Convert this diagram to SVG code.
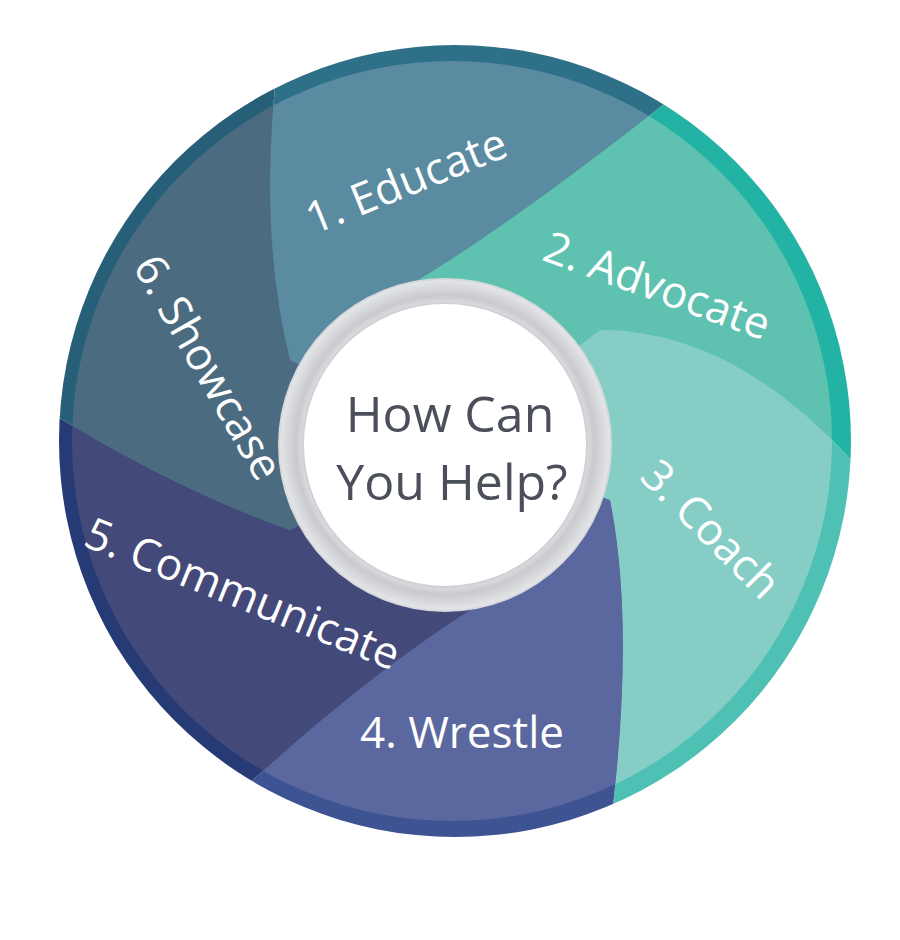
<svg xmlns="http://www.w3.org/2000/svg" width="900" height="940" viewBox="0 0 900 940">
<defs>
<clipPath id="outer"><circle cx="455" cy="441" r="396"/></clipPath>
<clipPath id="inner"><circle cx="452" cy="441" r="380"/></clipPath>
<radialGradient id="ring" cx="0.5" cy="0.5" r="0.5">
<stop offset="0.8" stop-color="#f4f4f6"/><stop offset="0.9" stop-color="#c9cacf"/><stop offset="1" stop-color="#e6e7ea"/>
</radialGradient>
<style>
.lbl{font-family:"Open Sans","Liberation Sans",sans-serif;font-size:44px;fill:#ffffff;text-anchor:middle}
.ctr{font-family:"Open Sans","Liberation Sans",sans-serif;font-size:50px;fill:#4a4f5a;text-anchor:middle}
</style>
<path id="pE" d="M450 445 L290 360 Q250 200 290 -20 L500 -100 L720 60 Q520 220 410 285 Z"/>
<path id="pA" d="M450 445 L410 285 Q520 220 720 60 L950 100 L900 520 Q760 330 600 330 Z"/>
<path id="pC" d="M450 445 L600 330 Q760 330 900 520 L950 900 L600 900 Q640 650 610 500 Z"/>
<path id="pW" d="M450 445 L610 500 Q640 650 600 900 L400 1000 L180 850 Q330 700 470 610 Z"/>
<path id="pM" d="M450 445 L470 610 Q330 700 180 850 L-100 800 L0 380 Q150 480 290 530 Z"/>
<path id="pS" d="M450 445 L290 530 Q150 480 0 380 L-100 -50 L290 -20 Q250 200 290 360 Z"/>
</defs>
<g id="rim" clip-path="url(#outer)">
<use href="#pE" fill="#2f7089"/><use href="#pA" fill="#22b3a4"/><use href="#pC" fill="#4fc0b4"/>
<use href="#pW" fill="#3d5392"/><use href="#pM" fill="#263a75"/><use href="#pS" fill="#285f78"/>
</g>
<g id="petals" clip-path="url(#inner)">
<g id="educate"><use href="#pE" fill="#5a8ba1"/></g>
<g id="advocate"><use href="#pA" fill="#5fc2b1"/></g>
<g id="coach"><use href="#pC" fill="#86cec5"/></g>
<g id="wrestle"><use href="#pW" fill="#5b689f"/></g>
<g id="communicate"><use href="#pM" fill="#434a7a"/></g>
<g id="showcase"><use href="#pS" fill="#4b6b81"/></g>
</g>
<g id="labels">
<text class="lbl" transform="translate(412,195) rotate(-22)">1. Educate</text>
<text class="lbl" transform="translate(652,300) rotate(20)">2. Advocate</text>
<text class="lbl" transform="translate(700,540) rotate(45)">3. Coach</text>
<text class="lbl" x="462" y="748">4. Wrestle</text>
<text class="lbl" transform="translate(237,608) rotate(22)">5. Communicate</text>
<text class="lbl" transform="translate(195,375) rotate(60)">6. Showcase</text>
</g>
<g id="center">
<circle cx="445" cy="445" r="166" fill="url(#ring)" stroke="#d8d9dd" stroke-width="2"/>
<circle cx="445" cy="445" r="142" fill="#ffffff" stroke="#d0d1d5" stroke-width="2"/>
<text class="ctr" x="450" y="432">How Can</text>
<text class="ctr" x="452" y="500">You Help?</text>
</g>
</svg>
